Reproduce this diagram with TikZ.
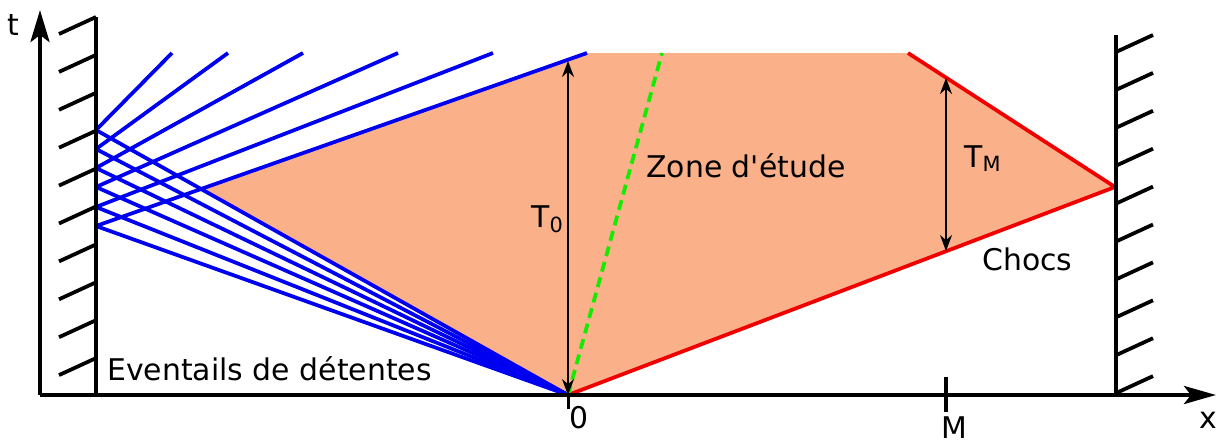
\documentclass[tikz,border=0pt]{standalone}
\usepackage{fontspec}
\setmainfont{DejaVu Sans}
\usetikzlibrary{arrows.meta}
\definecolor{zone}{RGB}{250,176,137}
\definecolor{fanblue}{RGB}{0,0,240}
\definecolor{shockred}{RGB}{240,0,0}
\definecolor{dashgreen}{RGB}{20,235,0}
\begin{document}
\begin{tikzpicture}[x=0.02cm,y=-0.02cm,
  font=\fontsize{17}{20}\selectfont,
  axis/.style={line width=0.085cm},
  hatch/.style={line width=0.075cm},
  fan/.style={draw=fanblue,line width=0.075cm},
  shock/.style={draw=shockred,line width=0.075cm},
  dim/.style={line width=0.035cm,{Stealth[length=0.32cm,width=0.24cm]}-{Stealth[length=0.32cm,width=0.24cm]}},
  lbl/.style={inner sep=0pt,anchor=base west}]
\useasboundingbox (0,0) rectangle (1220,443);
% key points
\coordinate (O) at (568,395);
\coordinate (W1) at (96,130);
\coordinate (W2) at (96,149);
\coordinate (W3) at (96,168);
\coordinate (W4) at (96,187);
\coordinate (W5) at (96,207);
\coordinate (W6) at (96,226);
\coordinate (T1) at (172,53);
\coordinate (T2) at (228,53);
\coordinate (T3) at (303,53);
\coordinate (T4) at (398,53);
\coordinate (T5) at (493,53);
\coordinate (T6) at (587,53);
\coordinate (S) at (908,53);
\coordinate (R) at (1115,187);
\coordinate (G) at (662,53);
\coordinate (V) at (intersection of W1--O and W6--T6);
% study zone
\fill[zone] (V) -- (T6) -- (S) -- (R) -- (O) -- cycle;
% rarefaction fans
\foreach \i in {1,...,6}{
  \draw[fan] (W\i) -- (T\i);
  \draw[fan] (W\i) -- (O);
}
% shocks
\draw[shock,line join=round] (S) -- (R) -- (O);
% green dashed line
\draw[dashgreen,line width=0.075cm,dash pattern=on 0.2cm off 0.12cm] (O) -- (G);
% dimension arrows
\coordinate (A0t) at (568,61);
\coordinate (AMt) at (946,78);
\coordinate (AMb) at (946,251);
\draw[dim] (O) -- (A0t);
\draw[dim] (AMt) -- (AMb);
% axes
\coordinate (Oax) at (40,395);
\coordinate (tend) at (40,10);
\coordinate (xend) at (1216,395);
\draw[axis,-{Stealth[length=0.64cm,width=0.38cm,inset=0.14cm]}] (Oax) -- (tend);
\draw[axis,-{Stealth[length=0.64cm,width=0.36cm,inset=0.14cm]}] (Oax) -- (xend);
% walls
\coordinate (LWt) at (96,17);
\coordinate (LWb) at (96,395);
\coordinate (RWt) at (1116,35);
\coordinate (RWb) at (1116,395);
\draw[axis] (LWt) -- (LWb);
\draw[axis] (RWt) -- (RWb);
\foreach \k in {0,...,9}{
  \draw[hatch] (96,17+37.9*\k) -- (59,34+37.9*\k);
  \draw[hatch] (1116,52+37.9*\k) -- (1153,35+37.9*\k);
}
% ticks
\draw[axis] (946,377) -- (946,412);
\draw[line width=0.06cm] (568,395) -- (568,409);
% labels
\node[lbl] (lt) at (7,35) {t};
\node[lbl] (lx) at (1199,428) {x};
\node[lbl] (l0) at (569,428) {0};
\node[lbl] (lM) at (941,438) {M};
\node[lbl] (lev) at (107,380) {Eventails de détentes};
\node[lbl] (lz) at (646,177) {Zone d\textquotesingle étude};
\node[lbl] (lt0) at (531,227) {T\textsubscript{0}};
\node[lbl] (ltm) at (964,167) {T\textsubscript{M}};
\node[lbl] (lc) at (982,270) {Chocs};
\end{tikzpicture}
\end{document}
